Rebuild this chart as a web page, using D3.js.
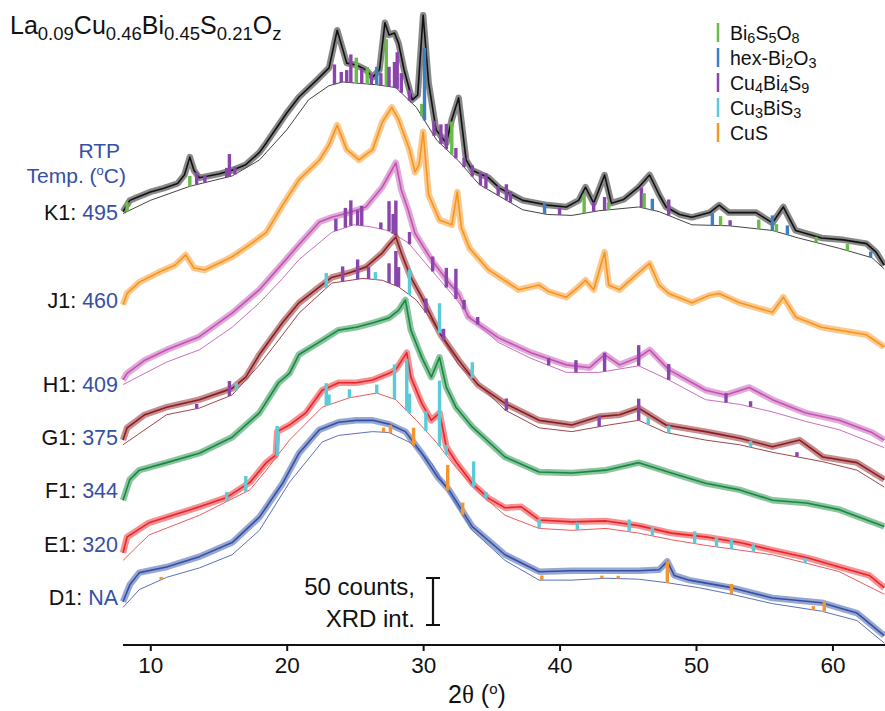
<!DOCTYPE html>
<html>
<head>
<meta charset="utf-8">
<script src="https://cdn.jsdelivr.net/npm/d3@7"></script>
<style>
  body { margin: 0; background: #fff; }
  svg text { font-family: "Liberation Sans", Arial, Helvetica, sans-serif; }
</style>
</head>
<body>
<div id="chart"></div>
<script>
// sample labels and RTP temperatures, top to bottom
const samples = ['K1', 'J1', 'H1', 'G1', 'F1', 'E1', 'D1']
const temps = ['495', '460', '409', '375', '344', '320', 'NA']
const lineColors = ['#111111', '#f7941d', '#c353b3', '#8c1c1f', '#16893f', '#ec2327', '#3250a6']
const bgColors = ['#444444', '#f7941d', '#c970bc', '#a3454a', '#16893f', '#ef5a5d', '#5a72b8']

// reference phases (stick colours)
const phaseKeys = ['G', 'B', 'P', 'C', 'O']
const phaseNames = ['Bi_{6}S_{5}O_{8}', 'hex-Bi_{2}O_{3}', 'Cu_{4}Bi_{4}S_{9}', 'Cu_{3}BiS_{3}', 'CuS']
const phaseColors = ['#69bd45', '#3e7fc4', '#8a45ad', '#5ccbd8', '#f4962a']

// x axis ticks
const xTicks = [10, 20, 30, 40, 50, 60]

// XRD patterns, [2theta, counts] (stacked, counts incl. offset)
const patK1 = [[8.0,461],[8.5,473],[9.0,476],[10,482],[11,486],[12,491],[12.5,500],[12.9,519],[13.2,505],[13.6,497],[15.0,501],[16.0,505],[17.0,511],[18.0,524],[18.5,534],[20.0,566],[20.9,583],[22.2,601],[23.1,614],[23.7,654],[24.4,619],[25.1,617],[25.8,612],[26.3,604],[26.8,612],[27.2,662],[27.5,649],[27.9,651],[28.2,640],[28.6,612],[29.2,580],[29.6,585],[30.0,670],[30.4,598],[30.95,548],[31.7,534],[32.1,559],[32.6,582],[33.15,516],[33.6,505],[34.8,497],[35.6,486],[37.3,473],[39.1,468],[40.5,466],[41.4,473],[41.9,487],[42.5,470],[43.3,500],[43.8,470],[44.7,474],[45.8,487],[46.6,500],[47.3,479],[47.8,466],[48.8,458],[49.7,455],[51.0,460],[51.7,468],[52.4,460],[54.4,460],[55.6,449],[56.4,466],[57.3,441],[59.2,433],[60.8,431],[62.5,427],[63.2,418],[63.8,404]]
const patJ1 = [[8.0,362],[8.3,374],[9.2,386],[10.7,397],[11.8,404],[12.6,415],[13.2,401],[14.0,399],[16.0,413],[17.3,426],[18.5,439],[19.7,468],[20.9,495],[22.4,516],[23.1,532],[23.7,553],[24.4,527],[25.3,516],[26.3,527],[27.0,556],[27.7,572],[28.2,559],[29.0,527],[29.4,503],[29.7,511],[30.0,546],[30.4,479],[31.2,452],[32.1,447],[32.5,482],[32.8,444],[33.4,422],[34.8,399],[37.0,378],[38.5,383],[39.2,376],[40.5,370],[41.4,381],[41.9,388],[42.5,378],[43.3,418],[43.6,383],[44.4,378],[45.8,396],[46.6,406],[47.3,383],[48.0,374],[49.7,364],[51.0,372],[51.7,374],[53.2,364],[55.6,354],[56.4,370],[57.3,349],[59.2,338],[62.5,330],[63.8,317]]
const patH1 = [[8.0,282],[8.3,289],[9.6,303],[11.2,314],[13.6,328],[16.0,353],[18.0,378],[19.7,406],[20.9,426],[22.4,450],[23.3,455],[24.6,460],[25.8,466],[27.0,487],[27.5,500],[28.0,513],[28.4,484],[28.9,463],[29.4,438],[30.6,410],[31.9,385],[32.6,374],[33.3,349],[35.5,327],[37.9,311],[40.5,298],[42.2,295],[43.3,309],[44.4,298],[45.8,306],[46.6,314],[48.0,293],[50.7,271],[52.2,266],[53.9,274],[55.6,261],[58.0,247],[60.5,239],[62.9,226],[63.8,218]]
const patG1 = [[8.0,218],[8.3,231],[9.6,245],[11.2,253],[13.6,261],[16.0,273],[17.0,285],[18.0,309],[19.7,343],[20.9,364],[22.4,381],[23.3,391],[24.6,396],[25.8,402],[27.0,417],[27.5,426],[28.0,434],[28.4,417],[29.1,391],[29.9,370],[30.6,349],[31.3,330],[32.6,303],[34.0,277],[36.0,257],[38.5,239],[40.9,234],[42.9,243],[44.4,245],[45.8,252],[47.8,234],[50.7,227],[53.2,220],[55.6,211],[57.6,218],[59.3,200],[61.8,194],[63.8,176]]
const patF1 = [[8.0,154],[8.5,176],[9.2,186],[11.2,194],[13.6,204],[16.0,221],[18.0,247],[19.4,279],[20.2,289],[20.9,309],[22.6,324],[23.8,335],[25.1,338],[26.4,343],[27.5,348],[28.2,356],[28.7,367],[29.1,335],[29.9,306],[30.6,285],[31.2,306],[31.7,274],[32.4,253],[33.6,232],[36.0,200],[38.5,184],[40.9,183],[43.4,186],[45.8,194],[48.2,183],[50.7,172],[53.2,165],[55.6,154],[58.1,151],[60.5,144],[63.8,126]]
const patE1 = [[8.0,98],[8.3,115],[9.9,130],[13.6,147],[15.6,157],[17.3,173],[18.5,194],[19.2,202],[19.3,227],[20.2,234],[21.4,247],[22.6,271],[23.8,279],[25.1,279],[26.3,282],[27.5,289],[28.0,293],[28.8,311],[29.1,285],[29.9,257],[30.6,239],[31.2,247],[31.7,211],[32.4,195],[33.6,172],[34.8,156],[36.0,146],[37.2,147],[38.5,133],[40.9,131],[43.4,132],[45.8,127],[48.2,119],[50.7,115],[53.2,109],[55.6,101],[58.1,93],[60.5,83],[62.7,74],[63.8,61]]
const patD1 = [[8.0,46],[8.5,64],[9.2,77],[11.2,83],[13.6,94],[16.0,109],[18.0,136],[19.7,172],[20.9,204],[22.4,229],[23.8,237],[25.1,239],[26.3,239],[27.5,235],[28.7,227],[29.9,204],[31.1,178],[31.9,165],[33.6,126],[36.0,96],[38.5,78],[40.9,79],[43.4,79],[45.8,79],[47.3,80],[47.9,89],[48.4,74],[49.5,69],[52.6,61],[55.6,50],[59.2,45],[61.8,34],[63.8,10]]

// fitted backgrounds (J1 and F1 have none)
const bgK1 = [[8.0,459],[10,473],[12.9,488],[16.0,499],[18.0,516],[20.0,548],[21.6,580],[23.1,595],[24.1,599],[26.6,596],[28.0,593],[29.5,572],[31.0,537],[32.6,515],[34.1,490],[37.3,463],[39.1,458],[40.9,457],[42.9,462],[45.8,466],[47.3,461],[49.7,447],[52.4,446],[55.6,441],[57.5,433],[60.5,422],[62.9,412],[63.8,400]]
const bgH1 = [[8.0,277],[11.2,301],[13.6,314],[16.0,338],[18.0,364],[19.7,390],[20.9,410],[23.3,439],[24.9,447],[26.1,445],[27.4,441],[28.9,428],[30.6,399],[32.3,370],[33.6,346],[35.5,322],[37.9,305],[40.5,290],[42.9,290],[45.8,297],[48.0,282],[50.7,261],[53.2,256],[55.6,248],[58.0,238],[60.5,229],[63.8,210]]
const bgG1 = [[8.0,213],[11.2,245],[13.6,252],[16.0,266],[18.0,298],[19.7,330],[20.9,353],[23.3,385],[25.6,390],[27.0,388],[28.2,381],[29.5,367],[30.6,346],[32.6,298],[36.0,250],[38.5,231],[40.9,227],[43.6,234],[45.8,239],[47.8,226],[50.7,218],[53.2,213],[55.6,205],[59.3,195],[61.8,186],[63.8,168]]
const bgE1 = [[8.0,90],[9.9,117],[13.6,138],[17.3,165],[18.5,186],[20.2,218],[22.6,253],[24.6,263],[26.6,268],[28.0,261],[29.5,239],[31.0,215],[32.4,189],[34.1,162],[36.0,138],[38.5,124],[40.9,122],[43.4,124],[45.8,119],[48.2,112],[50.7,106],[53.2,101],[55.6,96],[58.1,87],[60.5,78],[63.8,54]]
const bgD1 = [[8.0,40],[9.2,59],[11.2,72],[13.6,82],[16.0,96],[18.0,122],[20.2,173],[22.6,216],[23.8,223],[26.3,227],[27.5,226],[29.1,215],[30.6,194],[31.9,162],[33.6,122],[36.0,90],[38.5,69],[40.9,69],[43.4,71],[45.8,70],[48.0,66],[50.2,61],[52.6,54],[55.6,44],[59.2,36],[61.8,26],[63.8,2]]

// reference sticks [2theta, height in counts, phase]
const sticksK1 = [[8.3,10,'G'],[12.9,11,'G'],[13.4,13,'P'],[14.0,8,'P'],[15.6,10,'P'],[15.8,24,'P'],[16.2,8,'P'],[23.5,21,'P'],[24.0,11,'P'],[24.4,13,'P'],[24.7,30,'P'],[25.1,27,'G'],[25.5,16,'P'],[25.9,18,'G'],[26.2,11,'P'],[26.6,19,'B'],[26.9,13,'P'],[27.3,50,'G'],[27.5,21,'P'],[27.9,27,'P'],[28.1,39,'P'],[28.4,21,'P'],[29.0,11,'P'],[29.9,13,'G'],[30.1,77,'B'],[30.8,16,'P'],[31.3,21,'P'],[31.7,27,'P'],[32.1,35,'G'],[32.4,11,'P'],[33.0,10,'P'],[33.6,12,'P'],[34.2,14,'P'],[34.6,16,'P'],[35.5,10,'P'],[36.1,17,'P'],[36.4,12,'P'],[38.9,12,'B'],[40.0,8,'P'],[41.8,20,'G'],[42.5,10,'P'],[43.3,14,'P'],[43.6,8,'G'],[46.0,21,'P'],[46.2,16,'G'],[46.8,12,'B'],[48.0,17,'P'],[51.2,13,'B'],[51.8,10,'G'],[52.5,6,'P'],[54.6,10,'G'],[55.6,16,'B'],[55.9,8,'G'],[56.7,10,'B'],[58.8,6,'G'],[61.1,7,'G'],[62.8,6,'B']]
const sticksH1 = [[23.6,13,'P'],[24.3,21,'P'],[24.7,27,'P'],[25.2,16,'P'],[25.5,21,'P'],[26.9,7,'P'],[27.5,32,'P'],[27.8,21,'P'],[28.0,37,'P'],[29.0,13,'P'],[30.7,16,'P'],[31.7,21,'P'],[32.4,32,'P'],[33.0,10,'P'],[34.0,8,'P'],[39.2,8,'P'],[41.2,13,'P'],[43.3,20,'P'],[45.8,22,'P'],[48.0,17,'P'],[52.2,10,'P'],[54.0,6,'P']]
const sticksG1 = [[13.4,5,'P'],[15.8,16,'P'],[16.3,8,'C'],[22.9,16,'C'],[24.1,16,'P'],[25.2,21,'P'],[26.0,13,'P'],[26.5,8,'C'],[27.5,21,'P'],[28.0,37,'P'],[28.2,21,'P'],[29.0,27,'C'],[30.2,15,'P'],[31.2,32,'C'],[31.5,12,'P'],[33.6,17,'C'],[36.1,13,'P'],[42.9,12,'P'],[45.8,23,'P'],[46.5,8,'C'],[48.0,8,'C'],[54.0,7,'C'],[57.4,5,'P']]
const sticksE1 = [[15.6,10,'C'],[17.0,17,'C'],[19.3,32,'C'],[22.9,24,'C'],[23.1,11,'C'],[24.6,9,'C'],[26.6,9,'C'],[27.9,37,'C'],[28.8,55,'C'],[29.0,21,'C'],[30.2,21,'C'],[31.2,70,'C'],[31.7,11,'C'],[33.7,27,'C'],[34.6,7,'C'],[38.5,10,'C'],[41.3,8,'C'],[45.1,13,'C'],[46.8,10,'C'],[49.9,13,'C'],[51.5,10,'C'],[52.6,10,'C'],[54.2,8,'C'],[58.0,5,'C']]
const sticksD1 = [[10.8,3,'O'],[27.1,5,'O'],[27.6,9,'O'],[29.3,19,'O'],[31.8,27,'O'],[32.9,13,'O'],[38.7,5,'O'],[43.1,3,'O'],[44.3,3,'O'],[47.9,23,'O'],[52.6,11,'O'],[58.6,4,'O'],[59.4,11,'O']]

const patterns = [patK1, patJ1, patH1, patG1, patF1, patE1, patD1]
const backgrounds = [bgK1, null, bgH1, bgG1, null, bgE1, bgD1]
const stickSets = [sticksK1, [], sticksH1, sticksG1, [], sticksE1, sticksD1]
const labelBaselines = [220, 308, 392, 445, 498, 552, 605]

const width = 885, height = 711
const svg = d3.select('#chart').append('svg')
  .attr('width', width).attr('height', height)

const x = d3.scaleLinear().domain([8, 64]).range([123, 887])
// 50 counts -> 47 px
const y = d3.scaleLinear().domain([0, 700]).range([645, 645 - 700 * 0.94])

const line = d3.line().x(d => x(d[0])).y(d => y(d[1]))

// helper: text with _{sub} and ^{sup} parts
function rich(textSel, str, size, subShift = 0.25) {
  const parts = str.split(/(_\{[^}]*\}|\^\{[^}]*\})/).filter(s => s.length)
  let shift = 0
  parts.forEach(p => {
    let t = p, target = 0, fs = size
    if (p.startsWith('_{')) { t = p.slice(2, -1); target = size * subShift; fs = size * 0.74 }
    else if (p.startsWith('^{')) { t = p.slice(2, -1); target = -size * 0.38; fs = size * 0.62 }
    textSel.append('tspan').attr('dy', target - shift).attr('font-size', fs).text(t)
    shift = target
  })
}

// background value under a stick
function bgAt(bg, t) {
  const i = d3.bisector(d => d[0]).left(bg, t)
  if (i <= 0) return bg[0][1]
  if (i >= bg.length) return bg[bg.length - 1][1]
  const a = bg[i - 1], b = bg[i]
  return a[1] + (b[1] - a[1]) * (t - a[0]) / (b[0] - a[0])
}

const plot = svg.append('g')

samples.forEach((s, i) => {
  const g = plot.append('g').attr('class', 'sample-' + s)
  const bg = backgrounds[i]
  // soft band standing in for the counting noise
  g.append('path').datum(patterns[i])
    .attr('d', line).attr('fill', 'none')
    .attr('stroke', lineColors[i]).attr('stroke-width', 6.5)
    .attr('stroke-opacity', 0.5).attr('stroke-linejoin', 'round')
  if (bg) {
    g.append('path').datum(bg)
      .attr('d', line).attr('fill', 'none')
      .attr('stroke', bgColors[i]).attr('stroke-width', 1)
  }
  g.append('path').datum(patterns[i])
    .attr('d', line).attr('fill', 'none')
    .attr('stroke', lineColors[i]).attr('stroke-width', 1.6)
    .attr('stroke-linejoin', 'round')
  if (bg) {
    g.selectAll('rect.stick')
      .data(stickSets[i])
      .enter()
      .append('rect')
      .attr('class', 'stick')
      .attr('x', d => x(d[0]) - 1.7)
      .attr('width', 3.4)
      .attr('y', d => y(bgAt(bg, d[0]) + d[1]))
      .attr('height', d => y(bgAt(bg, d[0])) - y(bgAt(bg, d[0]) + d[1]))
      .attr('fill', d => phaseColors[phaseKeys.indexOf(d[2])])
  }
})

// sample labels
samples.forEach((s, i) => {
  const t = svg.append('text')
    .attr('x', 118).attr('y', labelBaselines[i])
    .attr('text-anchor', 'end').attr('font-size', 21.5)
  t.append('tspan').attr('fill', '#111').text(s + ': ')
  t.append('tspan').attr('fill', '#3550a5').text(temps[i])
})

svg.append('text').attr('x', 120).attr('y', 158)
  .attr('text-anchor', 'end').attr('font-size', 21).attr('fill', '#3550a5')
  .text('RTP')
const tmp = svg.append('text').attr('x', 126).attr('y', 183)
  .attr('text-anchor', 'end').attr('font-size', 21).attr('fill', '#3550a5')
rich(tmp, 'Temp. (^{o}C)', 21)

// title
const title = svg.append('text').attr('x', 10).attr('y', 34).attr('fill', '#111')
rich(title, 'La_{0.09}Cu_{0.46}Bi_{0.45}S_{0.21}O_{z}', 25)

// legend
phaseNames.forEach((n, i) => {
  const by = 40 + i * 25
  svg.append('line')
    .attr('x1', 718).attr('x2', 718)
    .attr('y1', by - 17).attr('y2', by + 2)
    .attr('stroke', phaseColors[i]).attr('stroke-width', 2.5)
  const t = svg.append('text').attr('x', 730).attr('y', by).attr('fill', '#111')
  rich(t, n, 19.5, 0.16)
})

// x axis
const axis = svg.append('g').attr('transform', 'translate(0,645)')
  .call(d3.axisBottom(x).tickValues(xTicks).tickSize(6).tickPadding(6).tickFormat(d3.format('d')))
axis.select('.domain').attr('stroke', '#111').attr('stroke-width', 2)
  .attr('d', `M${x(8)},0H${width}`)
axis.selectAll('.tick line').attr('stroke', '#111').attr('stroke-width', 2)
axis.selectAll('.tick text').attr('font-size', 22.5).attr('fill', '#111')
  .attr('font-family', '"Liberation Sans", Arial, sans-serif').attr('dy', '0.71em')

const xt = svg.append('text').attr('x', 448).attr('y', 703).attr('font-size', 25).attr('fill', '#111')
xt.append('tspan').text('2')
xt.append('tspan').attr('font-family', '"Liberation Serif", "Times New Roman", serif').text('θ')
xt.append('tspan').text(' (')
xt.append('tspan').attr('dy', -9).attr('font-size', 15).text('o')
xt.append('tspan').attr('dy', 9).text(')')

// scale bar: 50 counts
const barX = 433, barBottom = 625
const barTop = barBottom - (y(0) - y(50))
svg.append('path')
  .attr('d', `M${barX},${barTop}V${barBottom}M${barX - 7},${barTop}H${barX + 7}M${barX - 7},${barBottom}H${barX + 7}`)
  .attr('stroke', '#111').attr('stroke-width', 2.2).attr('fill', 'none')
svg.append('text').attr('x', 415).attr('y', 595).attr('text-anchor', 'end')
  .attr('font-size', 24).attr('fill', '#111').text('50 counts,')
svg.append('text').attr('x', 415).attr('y', 627).attr('text-anchor', 'end')
  .attr('font-size', 24).attr('fill', '#111').text('XRD int.')
</script>
</body>
</html>
